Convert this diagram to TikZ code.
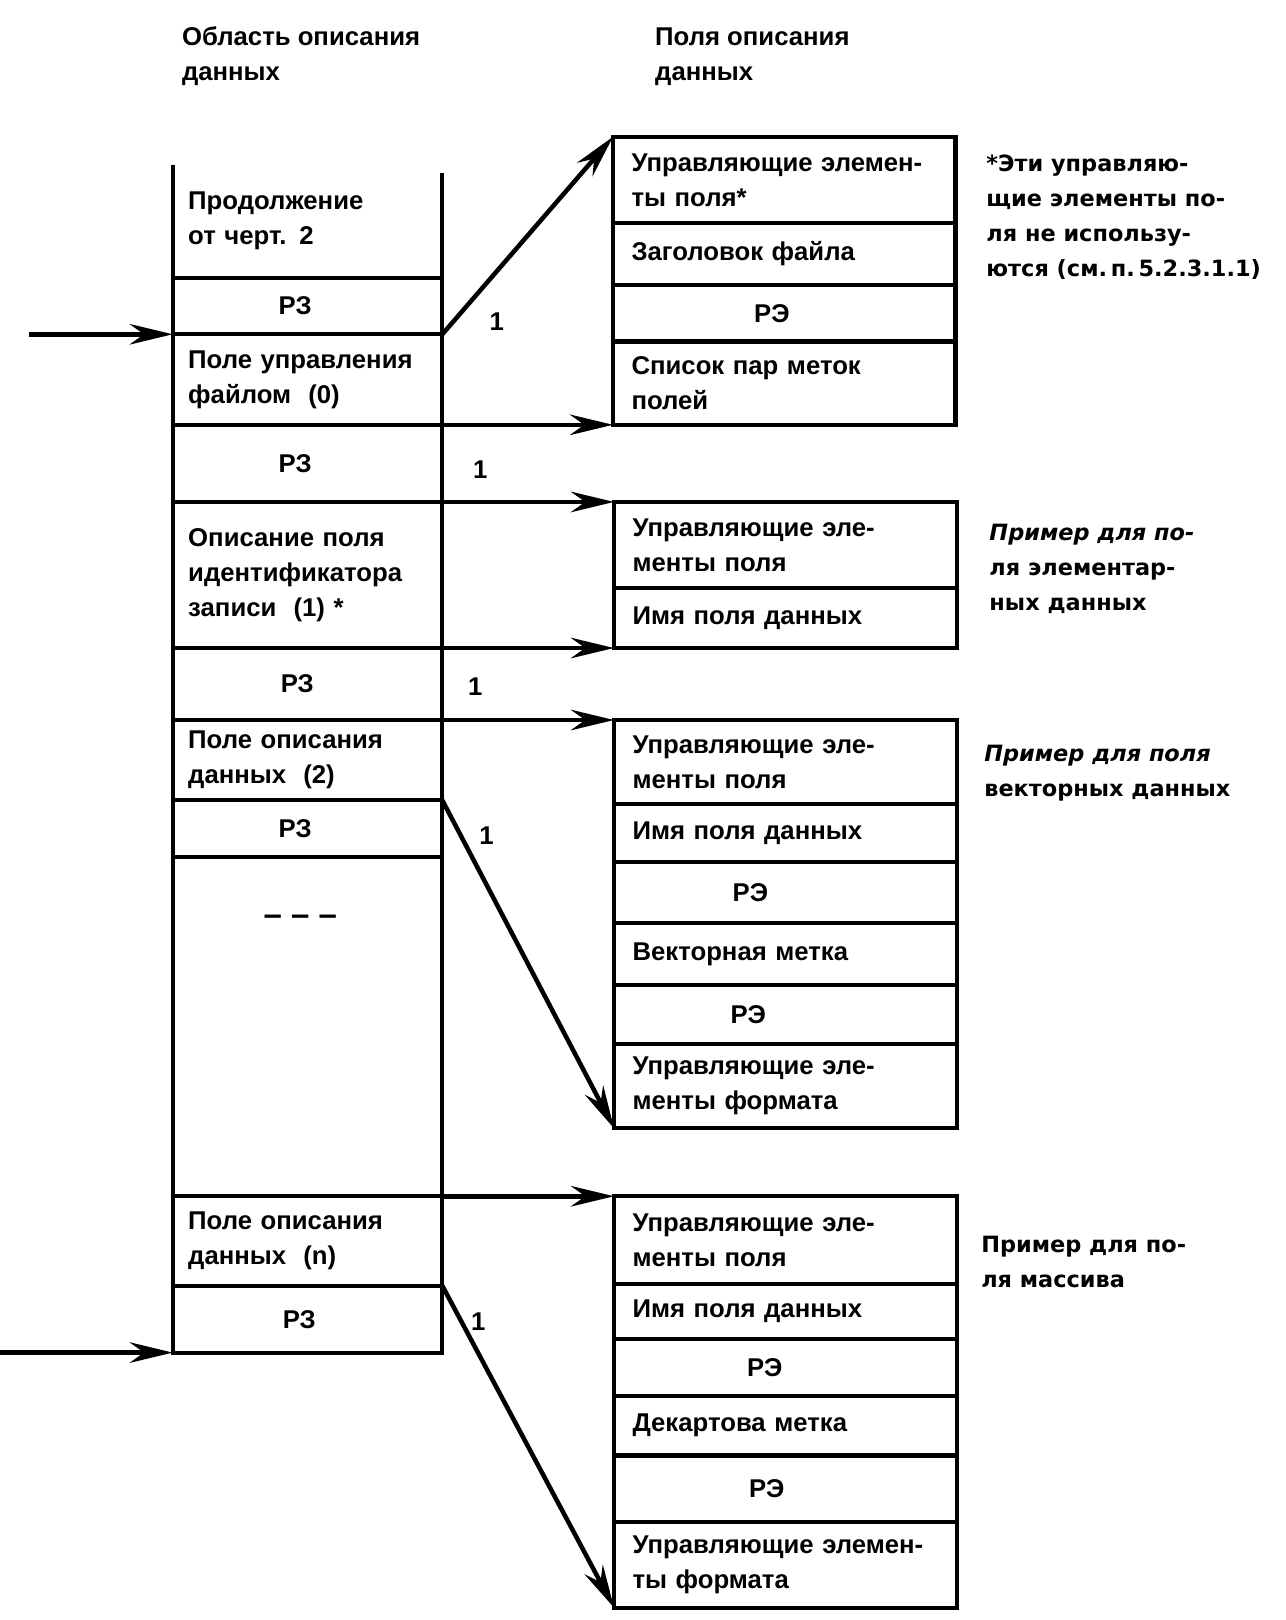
\documentclass[tikz,border=0pt]{standalone}
\usepackage{fontspec}
\setmainfont{Liberation Sans}
\newfontfamily\notefont{DejaVu Sans}
\usetikzlibrary{arrows.meta, positioning}

\tikzset{
  lcell/.style={draw, outer sep=0pt, inner xsep=7.5pt, inner ysep=0pt,
    minimum width=131pt, text width=116pt, align=left,
    font=\fontsize{12.5}{17}\selectfont\bfseries},
  rcell/.style={draw, outer sep=0pt, inner xsep=9pt, inner ysep=0pt,
    minimum width=166.5pt, text width=148.5pt, align=left,
    font=\fontsize{12.5}{17}\selectfont\bfseries},
  ctr/.style={align=center},
  note/.style={anchor=west, align=left, inner sep=0pt,
    font=\notefont\fontsize{10.9}{17}\selectfont\bfseries},
  head/.style={anchor=west, align=left, inner sep=0pt,
    font=\fontsize{12.5}{17}\selectfont\bfseries},
  num/.style={inner sep=0pt, font=\fontsize{12.5}{15}\selectfont\bfseries},
  link/.style={-{Stealth[length=21pt,width=10pt,inset=7pt]}, line width=2.2pt}
}

\begin{document}
\begin{tikzpicture}[x=0.5pt, y=-0.5pt, line width=2pt]
  \useasboundingbox (0,0) rectangle (1250,1575);

  % headings
  \node[head] (hl) at (175,55) {Область описания\\данных};
  \node[head] (hr) at (635,55) {Поля описания\\данных};

  % left column
  \node[lcell, draw=none, minimum height=55pt, anchor=north west] (c0) at (168,160) {Продолжение\\от черт. 2};
  \draw (c0.north west) -- (c0.south west) (c0.north east) ++(0,-4pt) -- (c0.south east);
  \node[lcell, ctr, minimum height=27.5pt, below=0pt of c0] (c1) {РЗ\kern12pt};
  \node[lcell, minimum height=44pt, below=0pt of c1] (c2) {Поле управления\\файлом\ \ (0)};
  \node[lcell, ctr, minimum height=37.5pt, below=0pt of c2] (c3) {РЗ\kern12pt};
  \node[lcell, minimum height=71pt, below=0pt of c3] (c4) {Описание поля\\идентификатора\\записи\ \ (1) *};
  \node[lcell, ctr, minimum height=35pt, below=0pt of c4] (c5) {РЗ\kern10pt};
  \node[lcell, minimum height=39pt, below=0pt of c5] (c6) {Поле описания\\данных\ \ (2)};
  \node[lcell, ctr, minimum height=27.5pt, below=0pt of c6] (c7) {РЗ\kern12pt};
  \node[lcell, minimum height=165pt, below=0pt of c7] (c8) {};
  \node[lcell, minimum height=43.5pt, below=0pt of c8] (c9) {Поле описания\\данных\ \ (n)};
  \node[lcell, ctr, minimum height=32.5pt, below=0pt of c9] (c10) {РЗ\kern8pt};
  \node[num, font=\fontsize{16}{16}\selectfont\bfseries] (gap) at (292,895) {– – –};

  % data description fields
  \node[rcell, minimum height=42pt, anchor=north west] (b1a) at (596,133) {Управляющие элемен-\\ты поля*};
  \node[rcell, minimum height=30pt, below=0pt of b1a] (b1b) {Заголовок файла};
  \node[rcell, ctr, minimum height=27.5pt, below=0pt of b1b] (b1c) {РЭ\kern12pt};
  \node[rcell, minimum height=40.5pt, below=0pt of b1c] (b1d) {Список пар меток\\полей};

  \node[rcell, minimum height=42pt, anchor=north west] (b2a) at (597,488) {Управляющие эле-\\менты поля};
  \node[rcell, minimum height=29pt, below=0pt of b2a] (b2b) {Имя поля данных};

  \node[rcell, minimum height=41pt, anchor=north west] (b3a) at (597,700) {Управляющие эле-\\менты поля};
  \node[rcell, minimum height=28pt, below=0pt of b3a] (b3b) {Имя поля данных};
  \node[rcell, ctr, minimum height=29.5pt, below=0pt of b3b] (b3c) {РЭ\kern34pt};
  \node[rcell, minimum height=30.5pt, below=0pt of b3c] (b3d) {Векторная метка};
  \node[rcell, ctr, minimum height=28.5pt, below=0pt of b3d] (b3e) {РЭ\kern36pt};
  \node[rcell, minimum height=41pt, below=0pt of b3e] (b3f) {Управляющие эле-\\менты формата};

  \node[rcell, minimum height=42.5pt, anchor=north west] (b4a) at (597,1163) {Управляющие эле-\\менты поля};
  \node[rcell, minimum height=27pt, below=0pt of b4a] (b4b) {Имя поля данных};
  \node[rcell, ctr, minimum height=27.5pt, below=0pt of b4b] (b4c) {РЭ\kern20pt};
  \node[rcell, minimum height=29pt, below=0pt of b4c] (b4d) {Декартова метка};
  \node[rcell, ctr, minimum height=32.5pt, below=0pt of b4d] (b4e) {РЭ\kern18pt};
  \node[rcell, minimum height=41.5pt, below=0pt of b4e] (b4f) {Управляющие элемен-\\ты формата};

  % notes
  \node[note] (n1) at (957,211) {*Эти управляю-\\щие элементы по-\\ля не использу-\\ются (см.\,п.\,5.2.3.1.1)};
  \node[note] (n2) at (960,553) {\itshape Пример для по-\\ля элементар-\\ных данных};
  \node[note] (n3) at (955,752) {\itshape Пример для поля\\векторных данных};
  \node[note] (n4) at (952,1227) {Пример для по-\\ля массива};

  % links
  \coordinate (s0) at (28,325);
  \coordinate (s1) at (0,1315);
  \draw[link] (s0) -- (c2.north west);
  \draw[link] (s1) -- (c10.south west);
  \draw[link] (c2.north east) -- (b1a.north west);
  \draw[link] (c2.south east) -- (b1d.south west);
  \draw[link] (c4.north east) -- (b2a.north west);
  \draw[link] (c4.south east) -- (b2b.south west);
  \draw[link] (c6.north east) -- (b3a.north west);
  \draw[link] (c6.south east) -- (b3f.south west);
  \draw[link] (c9.north east) -- (b4a.north west);
  \draw[link] (c9.south east) -- (b4f.south west);

  \node[num] (k1) at (483,313) {1};
  \node[num] (k2) at (467,457) {1};
  \node[num] (k3) at (462,668) {1};
  \node[num] (k4) at (473,812) {1};
  \node[num] (k5) at (465,1285) {1};
\end{tikzpicture}
\end{document}
